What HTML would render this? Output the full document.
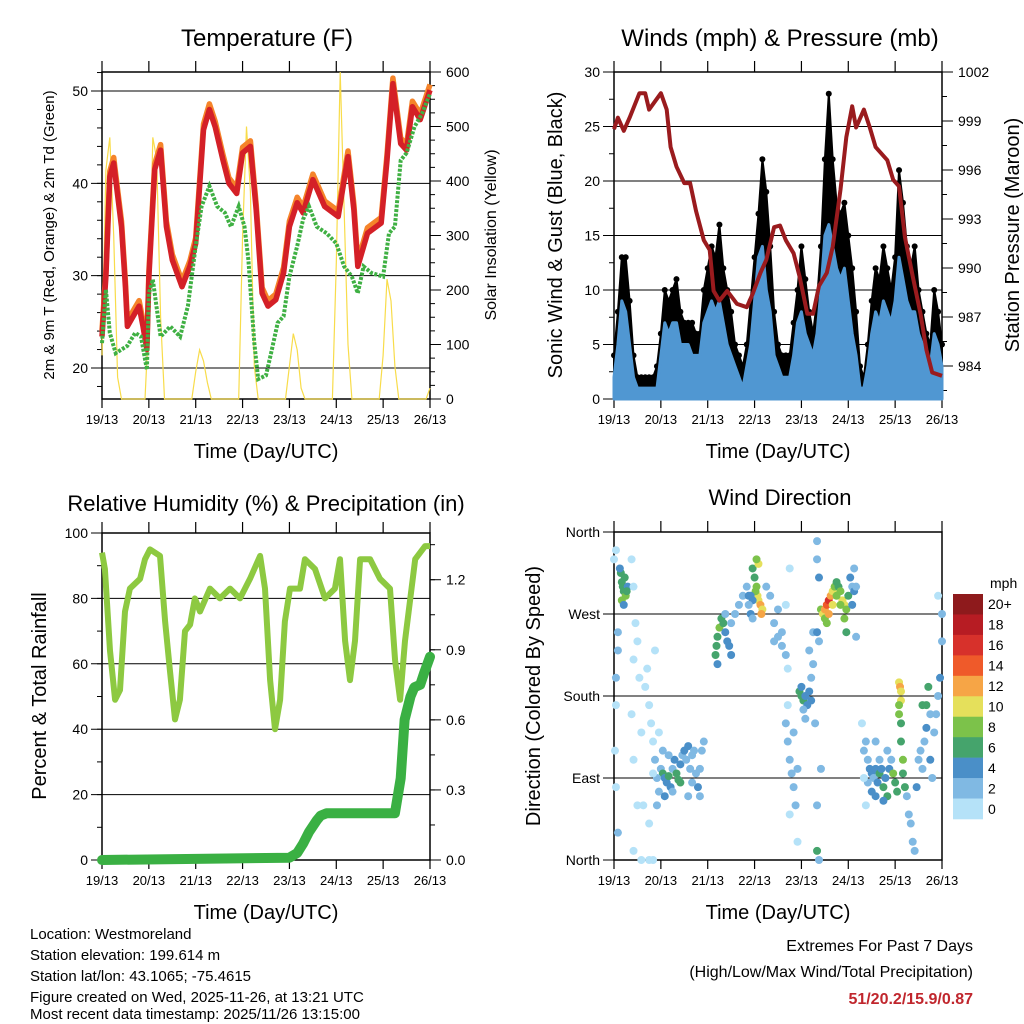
<!DOCTYPE html>
<html><head><meta charset="utf-8"><style>
html,body{margin:0;padding:0;background:#fff}
svg{display:block;font-family:"Liberation Sans",Arial,sans-serif}
</style></head><body>
<svg id="c" width="1024" height="1024" viewBox="0 0 1024 1024" xmlns="http://www.w3.org/2000/svg">
<rect width="1024" height="1024" fill="#fff"/>
<g id="g"></g>
<g font-size="15" fill="#000">
<text x="30" y="939">Location: Westmoreland</text>
<text x="30" y="960">Station elevation: 199.614 m</text>
<text x="30" y="981">Station lat/lon: 43.1065; -75.4615</text>
<text x="30" y="1002">Figure created on Wed, 2025-11-26, at 13:21 UTC</text>
<text x="30" y="1019">Most recent data timestamp: 2025/11/26 13:15:00</text>
</g>
<g font-size="16" text-anchor="end">
<text x="973" y="951">Extremes For Past 7 Days</text>
<text x="973" y="977">(High/Low/Max Wind/Total Precipitation)</text>
<text x="973" y="1004" fill="#c0262d" font-weight="bold">51/20.2/15.9/0.87</text>
</g>
</svg>
<script>
// ---------- DATA ----------
const dayLabels=["19/13","20/13","21/13","22/13","23/13","24/13","25/13","26/13"];
const tempHours=[0,2,4,6,7,10,12,13,16,19,21,23,24,27,30,33,36,41,45,48,52,55,58,62,65,69,72,76,79,82,85,89,93,96,100,103,108,114,121,126,129,131,136,143,146,149,153,156,159,163,168];
const tempRed=[23.4,29.9,40.7,42.2,40.4,35.3,28.8,24.5,25.6,26.7,24.5,22,29.9,41.5,43.6,35.3,31.7,28.8,31,33.5,45.8,48,46.1,42.5,40,38.9,43.3,44,37.1,28.1,26.7,27.4,30.3,35.3,37.9,36.8,40.4,37.5,36.4,42.9,37.1,31,34.6,35.7,42.5,50.8,44.3,43.6,48.3,46.9,50.1];
const dewHours=[0,2,4,7,10,13,17,20,23,24,26,30,35,40,44,48,51,55,59,63,66,70,73,75,78,80,84,87,90,93,96,100,103,106,110,115,120,124,128,131,134,138,144,147,150,153,156,160,164,168];
const dewVals=[22.7,28.5,23.8,21.6,22,22.4,23.8,23.4,19.8,28.1,29.6,23.4,24.5,23.4,26.7,33.2,37.5,39.7,37.5,36.8,35.3,37.5,35.3,31.7,22.7,18.8,19.2,22,24.9,25.6,29.9,33.2,36.1,37.5,35.3,34.6,33.5,31,29.9,28.1,31,30.3,29.9,34.6,35.3,42.5,43.3,46.1,47.6,49.7];
const solarVals=[80,420,480,300,40,0,0,0,0,0,0,0,150,480,440,150,0,0,0,0,0,0,0,0,50,90,70,30,0,0,0,0,0,0,0,0,300,500,380,60,0,0,0,0,0,0,0,0,60,120,90,20,0,0,0,0,0,0,0,0,250,600,350,100,0,0,0,0,0,0,0,0,80,220,180,60,0,0,0,0,0,0,0,0,20];
const gustVals=[4,8,13,13,9,4,2,2,2,2,2,3,6,10,9,10,11,8,7,7,7,6,6,10,12,14,13,16,12,10,8,5,4,3,5,9,13,17,22,19,14,8,5,4,4,4,7,10,14,11,8,6,9,14,22,28,22,18,17,18,15,12,8,3,2,5,9,12,11,14,12,10,13,21,18,14,12,14,10,8,6,5,10,8,5];
const windVals=[2,5,9,8,5,2,1,1,1,1,1,1,4,7,6,7,7,5,5,5,4,4,4,7,8,9,8,9,7,5,4,3,2,1,3,5,9,13,14,10,8,4,3,2,2,2,4,7,8,6,5,4,6,10,15,16,14,12,11,12,9,6,4,1,1,3,6,8,7,9,8,7,9,13,11,9,8,8,6,5,4,3,6,5,3];
const pressHours=[0,2,5,8,13,16,18,24,27,29,32,36,39,42,46,49,51,54,58,63,68,71,75,78,82,85,88,92,95,99,102,105,109,112,116,119,122,124,128,131,134,140,143,146,149,153,157,160,163,168];
const pressVals=[998.5,999.2,998.4,999.2,1000.7,1000.7,999.7,1000.7,999.7,997.4,996.2,995.2,995.2,993.5,991.7,991.1,988.6,988,988.6,987.8,987.6,988.4,989.7,990.5,992.5,992.6,991.7,990.9,989.5,987.2,987.2,988.9,989.7,991.3,994.8,998,999.9,998.6,999.7,998.6,997.4,996.6,995.4,995,991.9,989.5,987.2,985,983.6,983.4];
const rhHours=[0,1.5,4.1,6.7,9.2,11.8,14.3,19.5,22,24.6,29.7,32.3,34.8,37.4,39.9,42.5,45.1,47.6,50.2,55.3,60.4,65.6,70.7,75.8,81,83.5,86.1,88.6,91.2,93.7,96.3,101.4,103.9,109.1,114.2,119.3,121.9,124.5,127,129.6,132.2,137.3,142.4,147.5,150.1,152.7,155.2,160.4,165.5,168];
const rhVals=[94,89,64,49,52,76,83,86,92,95,93,73,58,43,49,70,72,80,76,83,80,83,80,86,93,83,55,40,49,73,83,83,92,89,80,83,92,67,55,67,92,92,86,83,61,49,67,92,96,96];
const precipHours=[0,96,100,103,106,110,112,115,120,130,140,150,153,155,158,160,163,165,168];
const precipVals=[0,0.01,0.03,0.07,0.12,0.17,0.19,0.2,0.2,0.2,0.2,0.2,0.35,0.6,0.7,0.74,0.75,0.8,0.87];
const dirHours=[3.5,4,4.5,5,6,7,5.5,4,3,6.5,5,0,1,2,2,1,1,0.5,1,2,9,10,11,12,10,13,9,14,10,12,10,14,18,20,
24,25,26,27,28,29,30,31,32,33,34,35,36,37,38,39,40,41,42,43,44,45,46,22,21,23,26,28,30,34,40,44,38,25,23,20,19,18,16,17,21,15,18,20,22,
52,52.5,53,54,55,56,57,58,59,60,53,57,60,62,64,66,68,69,
71,72,73,73.5,74,75,76,74,73,72.5,75.5,71,70,70,69,71,
78,80,82,84,86,88,89,84,82,86,90,88,
95,96,97,98,99,100,101,96,97,98,101,102,100,102,
88,89,90,91,92,93,89,94,92,90,94,
104,104,105,104,105,104,104,105,106,103,
106,107,108,109,110,111,112,113,114,115,116,117,118,119,120,121,122,123,108,110,112,114,116,118,119,122,123,124,109,124,
128,129,130,131,132,133,134,135,136,137,138,139,140,141,142,143,144,145,130,132,134,136,138,140,127,128,129,134,
146,146.5,147,147,146,146,147,147,148,148,149,
150,151,152,153,154,155,156,157,158,159,160,161,160,162,163,164,165,166,167,168,168,158,162,166];
const dirDegs=[315,305,300,295,290,300,310,285,320,295,280,330,340,250,230,200,170,120,80,30,330,300,260,240,220,200,160,140,110,60,10,0,0,0,
100,95,90,85,92,80,100,110,95,88,105,115,120,110,125,100,115,120,95,80,70,120,130,90,110,75,70,115,75,85,85,100,70,120,140,130,150,170,190,210,230,60,40,95,60,
225,235,245,255,265,260,250,240,235,225,215,270,260,270,280,290,300,290,
320,310,300,290,285,280,275,325,330,295,270,285,290,270,280,265,
300,290,260,245,235,225,210,275,240,250,320,280,
185,180,175,180,170,185,175,190,165,155,200,215,230,250,
150,130,110,95,80,60,170,100,140,50,20,
350,330,310,250,240,60,10,0,100,150,
275,270,275,280,285,290,295,300,305,300,295,285,280,275,290,310,300,295,265,270,280,290,280,265,250,280,320,300,260,245,
120,130,110,100,95,90,100,85,95,100,80,90,70,100,110,95,85,75,85,75,70,110,65,120,150,90,60,130,
195,190,185,175,170,160,150,130,110,95,80,
70,50,40,20,10,80,110,120,100,130,170,190,145,110,90,140,160,180,200,240,270,170,160,290];
const dirSpeeds=[6,6,7,6,8,5,6,8,4,6,5,1,1,2,2,2,1,1,1,2,1,1,1,1,1,1,1,1,1,1,0,0,0,0,
3,6,4,5,6,4,3,4,6,7,4,3,4,3,4,2,3,2,3,4,3,2,2,2,2,3,4,3,3,6,3,3,3,3,1,1,1,1,1,1,1,1,1,1,2,
7,6,7,8,7,6,4,4,4,4,4,3,3,2,2,2,3,4,
6,7,9,10,11,12,11,10,8,8,12,4,4,5,3,3,
2,2,2,2,3,2,1,3,2,2,1,1,
6,6,6,5,4,4,4,5,3,3,2,2,3,3,
2,3,3,3,3,3,1,3,3,1,1,
3,2,5,4,3,3,7,2,2,3,
9,10,12,14,16,13,11,8,6,7,8,10,11,8,6,4,3,4,9,12,10,9,8,9,6,4,3,2,8,3,
2,2,3,4,5,3,4,5,6,4,6,5,6,4,3,8,7,6,3,4,5,3,4,3,1,1,1,2,
11,12,10,10,9,8,7,6,8,7,6,
3,3,3,2,2,4,3,3,2,2,6,6,4,4,3,2,3,3,4,3,2,6,3,1];
const cbLabels=["20+","18","16","14","12","10","8","6","4","2","0"];
const cbColors=["#8e1a1c","#b71c23","#d7312b","#ef5a2a","#f6a546","#e5e05b","#7cc24a","#45a46c","#4a8fc8","#80b9e3","#b5e2f8"];

// ---------- HELPERS ----------
const NS="http://www.w3.org/2000/svg";
const G=document.getElementById('g');
function mk(tag,attrs,parent){const e=document.createElementNS(NS,tag);for(const k in attrs)e.setAttribute(k,attrs[k]);(parent||G).appendChild(e);return e;}
function txt(x,y,s,attrs,parent){const e=mk('text',Object.assign({x:x,y:y},attrs),parent);e.textContent=s;return e;}
function lin(d0,d1,r0,r1){return v=>r0+(v-d0)/(d1-d0)*(r1-r0);}
function pts(xs,ys,fx,fy){return xs.map((h,i)=>fx(h).toFixed(1)+','+fy(ys[i]).toFixed(1)).join(' ');}
function hoursOf(arr){return arr.map((v,i)=>i*168/(arr.length-1));}

function frame(p,name){
  const g=mk('g',{});
  
  
  mk('rect',{x:p.x0,y:p.y0,width:p.x1-p.x0,height:p.y1-p.y0,fill:'none',stroke:'#000','stroke-width':1.5},g);
  const fx=lin(0,168,p.x0,p.x1);
  dayLabels.forEach((d,i)=>{
    const x=fx(i*24);
    mk('line',{x1:x,y1:p.y1,x2:x,y2:p.y1+9,stroke:'#000','stroke-width':1.2},g);
    mk('line',{x1:x,y1:p.y0,x2:x,y2:p.y0-11,stroke:'#000','stroke-width':1.2},g);
    const t=txt(x,p.y1+25,d,{'font-size':13,'text-anchor':'middle'},g);
    
    
  });
  const xt=txt((p.x0+p.x1)/2,p.y1+59,'Time (Day/UTC)',{'font-size':20,'text-anchor':'middle'},g);
  
  
  return g;
}
function leftAxis(g,p,ticks,fy,labels,minor){
  minor.forEach(v=>{const y=fy(v);mk('line',{x1:p.x0-5,y1:y,x2:p.x0,y2:y,stroke:'#000'},g);});
  ticks.forEach((v,i)=>{const y=fy(v);
    mk('line',{x1:p.x0-11,y1:y,x2:p.x1,y2:y,stroke:'#000','stroke-width':1},g);
    const t=txt(p.x0-14,y+5,labels[i],{'font-size':14,'text-anchor':'end'},g);
    
    
  });
}
function rightAxis(g,p,ticks,fy,labels,minor){
  minor.forEach(v=>{const y=fy(v);mk('line',{x1:p.x1,y1:y,x2:p.x1+5,y2:y,stroke:'#000'},g);});
  ticks.forEach((v,i)=>{const y=fy(v);
    mk('line',{x1:p.x1,y1:y,x2:p.x1+11,y2:y,stroke:'#000'},g);
    const t=txt(p.x1+16,y+5,labels[i],{'font-size':14},g);
    
    
  });
}
function range(a,b,s){const r=[];for(let v=a;v<=b+1e-9;v+=s)r.push(+v.toFixed(4));return r;}

// ---------- PANEL 1: TEMPERATURE ----------
(function(){
  const p={x0:102,x1:430,y0:72,y1:399};
  const g=frame(p,'temperature-panel');
  const fx=lin(0,168,p.x0,p.x1), fy=lin(50,20,91,368), fs=lin(0,600,p.y1,p.y0);
  leftAxis(g,p,[20,30,40,50],fy,["20","30","40","50"],range(18,52,2));
  rightAxis(g,p,[0,100,200,300,400,500,600],fs,["0","100","200","300","400","500","600"],range(0,600,25));
  const cl=mk('g',{},g);
  const s=mk('polyline',{points:pts(hoursOf(solarVals),solarVals,fx,fs),fill:'none',stroke:'#f8dc4a','stroke-width':1.2},cl);
  
  
  const o=mk('polyline',{points:pts(tempHours,tempRed.map(v=>v+0.6),fx,fy),fill:'none',stroke:'#f5842a','stroke-width':5.5,'stroke-linejoin':'round'},cl);
  
  
  const r=mk('polyline',{points:pts(tempHours,tempRed,fx,fy),fill:'none',stroke:'#d42027','stroke-width':5.5,'stroke-linejoin':'round'},cl);
  
  
  const d=mk('polyline',{points:pts(dewHours,dewVals,fx,fy),fill:'none',stroke:'#3fb043','stroke-width':4,'stroke-dasharray':'3 1.5'},cl);
  
  
  const t=txt(267,46,'Temperature (F)',{'font-size':24,'text-anchor':'middle'},g);
  
  const yl=txt(0,0,'2m & 9m T (Red, Orange) & 2m Td (Green)',{'font-size':15,'text-anchor':'middle',transform:'translate(54,235) rotate(-90)'},g);
  
  const yr=txt(0,0,'Solar Insolation (Yellow)',{'font-size':16,'text-anchor':'middle',transform:'translate(496,235) rotate(-90)'},g);
  
})();

// ---------- PANEL 2: WINDS ----------
(function(){
  const p={x0:614,x1:942,y0:72,y1:399};
  const g=frame(p,'winds-panel');
  const fx=lin(0,168,p.x0,p.x1), fy=lin(0,30,p.y1,p.y0), fp=lin(984,1002,366,72);
  leftAxis(g,p,[0,5,10,15,20,25,30],fy,["0","5","10","15","20","25","30"],range(0,30,2.5));
  rightAxis(g,p,[984,987,990,993,996,999,1002],fp,["984","987","990","993","996","999","1002"],range(982.5,1002,1.5));
  const h=hoursOf(gustVals);
  const top=h.map((x,i)=>fx(x).toFixed(1)+','+fy(gustVals[i]).toFixed(1));
  const bot=h.map((x,i)=>fx(x).toFixed(1)+','+fy(windVals[i]).toFixed(1)).reverse();
  const gb=mk('polygon',{points:top.concat(bot).join(' '),fill:'#000','stroke':'#000','stroke-width':2,'stroke-linejoin':'round'},g);
  
  
  h.forEach((x,i)=>{const c=mk('circle',{cx:fx(x),cy:fy(gustVals[i]),r:3,fill:'#000'},g);
    
    });
  const wb=mk('polygon',{points:pts(h,windVals,fx,fy)+' '+fx(168)+','+fy(0)+' '+fx(0)+','+fy(0),fill:'#5097d2',stroke:'#5097d2','stroke-width':3,'stroke-linejoin':'round'},g);
  
  
  const pl=mk('polyline',{points:pts(pressHours,pressVals,fx,fp),fill:'none',stroke:'#9a1b1e','stroke-width':4,'stroke-linejoin':'round'},g);
  
  
  const t=txt(780,46,'Winds (mph) & Pressure (mb)',{'font-size':24,'text-anchor':'middle'},g);
  
  const yl=txt(0,0,'Sonic Wind & Gust (Blue, Black)',{'font-size':20,'text-anchor':'middle',transform:'translate(562,235) rotate(-90)'},g);
  
  const yr=txt(0,0,'Station Pressure (Maroon)',{'font-size':20,'text-anchor':'middle',transform:'translate(1019,235) rotate(-90)'},g);
  
})();

// ---------- PANEL 3: RH & PRECIP ----------
(function(){
  const p={x0:102,x1:430,y0:533,y1:860};
  const g=frame(p,'humidity-panel');
  const fx=lin(0,168,p.x0,p.x1), fy=lin(0,100,p.y1,p.y0), fr=lin(0,1.4,p.y1,p.y0);
  leftAxis(g,p,[0,20,40,60,80,100],fy,["0","20","40","60","80","100"],range(0,100,10));
  rightAxis(g,p,[0,0.3,0.6,0.9,1.2],fr,["0.0","0.3","0.6","0.9","1.2"],range(0,1.35,0.15));
  const rh=mk('polyline',{points:pts(rhHours,rhVals,fx,fy),fill:'none',stroke:'#8dc941','stroke-width':6,'stroke-linejoin':'round'},g);
  
  
  const pr=mk('polyline',{points:pts(precipHours,precipVals,fx,fr),fill:'none',stroke:'#3ab043','stroke-width':10,'stroke-linejoin':'round','stroke-linecap':'round'},g);
  
  
  const t=txt(266,511,'Relative Humidity (%) & Precipitation (in)',{'font-size':22,'text-anchor':'middle'},g);
  
  const yl=txt(0,0,'Percent & Total Rainfall',{'font-size':20,'text-anchor':'middle',transform:'translate(46,696) rotate(-90)'},g);
  
})();

// ---------- PANEL 4: WIND DIRECTION ----------
(function(){
  const p={x0:614,x1:942,y0:532,y1:860};
  const g=frame(p,'wind-direction-panel');
  const fx=lin(0,168,p.x0,p.x1), fy=lin(0,360,p.y1,p.y0);
  leftAxis(g,p,[0,90,180,270,360],fy,["North","East","South","West","North"],[]);
  dirHours.forEach((h,i)=>{
    const b=Math.min(10,Math.floor(dirSpeeds[i]/2));
    const c=mk('circle',{cx:fx(h),cy:fy(dirDegs[i]),r:4,fill:cbColors[10-b]},g);
    
    
  });
  const cb=mk('g',{},g);
  
  
  const bh=225/11;
  cbColors.forEach((c,i)=>{mk('rect',{x:953,y:594+i*bh,width:30,height:bh+0.3,fill:c},cb);
    const l=txt(988,594+i*bh+bh/2+5,cbLabels[i],{'font-size':14},cb);
    
    });
  txt(990,588,'mph',{'font-size':14},cb);
  const t=txt(780,505,'Wind Direction',{'font-size':22,'text-anchor':'middle'},g);
  
  const yl=txt(0,0,'Direction (Colored By Speed)',{'font-size':20,'text-anchor':'middle',transform:'translate(540,696) rotate(-90)'},g);
  
})();
</script>
</body></html>
